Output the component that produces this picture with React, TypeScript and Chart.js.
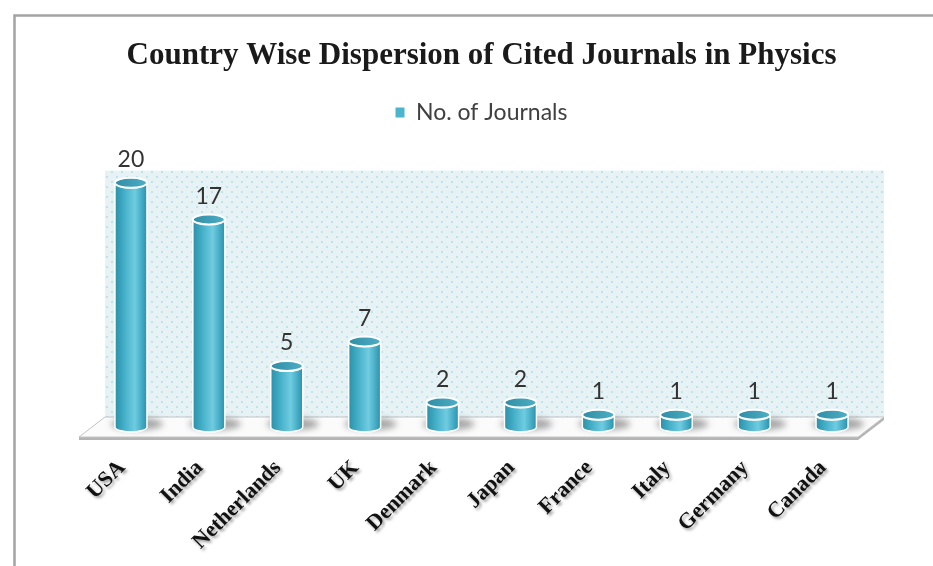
import React, { useEffect, useRef } from "react";
import { Chart, registerables } from "chart.js";

Chart.register(...registerables);

const categories = ["USA", "India", "Netherlands", "UK", "Denmark", "Japan", "France", "Italy", "Germany", "Canada"];
const journalCounts = [20, 17, 5, 7, 2, 2, 1, 1, 1, 1];
const seriesLabel = "No. of Journals";
const chartTitle = "Country Wise Dispersion of Cited Journals in Physics";
const yMax = 24;
const wallTopValue = 21;

function makePattern(ctx: CanvasRenderingContext2D) {
  const c = document.createElement("canvas");
  c.width = 10;
  c.height = 10;
  const p = c.getContext("2d")!;
  p.fillStyle = "#e7f2f5";
  p.fillRect(0, 0, 10, 10);
  p.fillStyle = "#bfe2ef";
  p.fillRect(1, 1, 2, 2);
  p.fillRect(6, 6, 2, 2);
  return ctx.createPattern(c, "repeat");
}

const DX = 13;
const DY = 10;

const scenePlugin = {
  id: "scene",
  beforeDraw(chart: any) {
    const { ctx, chartArea: a } = chart;
    const yS = chart.scales.y;
    const xs: any = chart.scales.x;
    if (xs && !xs.__shadowPatched) {
      const orig = xs.drawLabels;
      xs.drawLabels = function (area: any) {
        const c = this.ctx;
        c.save();
        c.shadowColor = "rgba(0,0,0,0.4)";
        c.shadowOffsetX = 2;
        c.shadowOffsetY = 2;
        c.shadowBlur = 3;
        orig.call(this, area);
        c.restore();
      };
      xs.__shadowPatched = true;
    }
    ctx.save();
    ctx.fillStyle = "#ffffff";
    ctx.fillRect(0, 0, chart.width, chart.height);
    // frame
    ctx.strokeStyle = "#a3a3a3";
    ctx.lineWidth = 2.5;
    ctx.strokeRect(14.5, 15.5, chart.width + 50, chart.height + 50);
    // wall
    const wallTop = yS.getPixelForValue(wallTopValue);
    const wl = a.left + DX;
    const wr = a.right + DX;
    const wb = a.bottom - DY;
    ctx.fillStyle = makePattern(ctx) as any;
    ctx.fillRect(wl, wallTop, wr - wl, wb - wallTop);
    // floor
    const b = a.bottom;
    const bl = [a.left + DX, b - DY];
    const br = [a.right + DX, b - DY];
    const fr = [a.right - DX, b + DY];
    const fl = [a.left - DX, b + DY];
    ctx.fillStyle = "#b4b4b4";
    ctx.beginPath();
    ctx.moveTo(fl[0], fl[1]);
    ctx.lineTo(fr[0], fr[1]);
    ctx.lineTo(br[0], br[1]);
    ctx.lineTo(br[0], br[1] + 3);
    ctx.lineTo(fr[0], fr[1] + 3);
    ctx.lineTo(fl[0], fl[1] + 3);
    ctx.closePath();
    ctx.fill();
    ctx.fillStyle = "#fbfbfb";
    ctx.strokeStyle = "#c4c4c4";
    ctx.lineWidth = 1;
    ctx.beginPath();
    ctx.moveTo(bl[0], bl[1]);
    ctx.lineTo(br[0], br[1]);
    ctx.lineTo(fr[0], fr[1]);
    ctx.lineTo(fl[0], fl[1]);
    ctx.closePath();
    ctx.fill();
    ctx.stroke();
    ctx.restore();
  },
  beforeDatasetsDraw(chart: any) {
    const { ctx } = chart;
    const meta = chart.getDatasetMeta(0);
    const data = chart.data.datasets[0].data as number[];
    ctx.save();
    meta.data.forEach((el: any, i: number) => {
      const { x, y, base, width } = el.getProps(["x", "y", "base", "width"], true);
      const rx = width / 2;
      const ry = 5;
      // floor shadow
      ctx.save();
      ctx.filter = "blur(3px)";
      ctx.fillStyle = "rgba(60,60,60,0.45)";
      ctx.beginPath();
      ctx.ellipse(x + 6, base - 3, rx + 10, ry + 1, 0, 0, Math.PI * 2);
      ctx.fill();
      ctx.restore();
      // body
      const g = ctx.createLinearGradient(x - rx, 0, x + rx, 0);
      g.addColorStop(0, "#2a90a8");
      g.addColorStop(0.3, "#45b0c9");
      g.addColorStop(0.62, "#6fcce1");
      g.addColorStop(0.85, "#43aac3");
      g.addColorStop(1, "#2b91a9");
      ctx.beginPath();
      ctx.moveTo(x - rx, y);
      ctx.lineTo(x - rx, base);
      ctx.ellipse(x, base, rx, ry, 0, Math.PI, 0, true);
      ctx.lineTo(x + rx, y);
      ctx.ellipse(x, y, rx, ry, 0, 0, Math.PI, false);
      ctx.closePath();
      ctx.fillStyle = g;
      ctx.fill();
      ctx.strokeStyle = "#ffffff";
      ctx.lineWidth = 1.5;
      ctx.stroke();
      // top cap
      const tg = ctx.createLinearGradient(x - rx, 0, x + rx, 0);
      tg.addColorStop(0, "#2f8ea5");
      tg.addColorStop(1, "#4eaec4");
      ctx.beginPath();
      ctx.ellipse(x, y, rx, ry, 0, 0, Math.PI * 2);
      ctx.fillStyle = tg;
      ctx.fill();
      ctx.strokeStyle = "#ffffff";
      ctx.lineWidth = 2;
      ctx.stroke();
      // value label
      ctx.fillStyle = "#333333";
      ctx.font = "23px Lato";
      ctx.textAlign = "center";
      ctx.textBaseline = "middle";
      ctx.fillText(String(data[i]), x, y - 23);
    });
    ctx.restore();
    return false;
  },
};

export default function App() {
  const ref = useRef<HTMLCanvasElement>(null);
  useEffect(() => {
    const chart = new Chart(ref.current!, {
      type: "bar",
      data: {
        labels: categories,
        datasets: [
          {
            label: seriesLabel,
            data: journalCounts,
            backgroundColor: "#4bb5cd",
            barThickness: 32,
          },
        ],
      },
      options: {
        animation: false,
        responsive: false,
        layout: { padding: { left: 92, right: 62, top: 0, bottom: 0 } },
        plugins: {
          title: {
            display: true,
            text: chartTitle,
            color: "#1a1a1a",
            font: { family: "Liberation Serif", size: 31, weight: "bold" },
            padding: { top: 37.4, bottom: 18.4 },
          },
          legend: {
            display: true,
            labels: {
              color: "#404040",
              font: { family: "Lato", size: 23 },
              boxWidth: 9,
              boxHeight: 10,
              padding: 8,
            },
          },
          tooltip: { enabled: false },
        },
        scales: {
          x: {
            grid: { display: false },
            border: { display: false },
            ticks: {
              color: "#111111",
              font: { family: "Liberation Serif", size: 22, weight: "bold" },
              maxRotation: 45,
              minRotation: 45,
              padding: 20,
              labelOffset: -9,
              autoSkip: false,
            },
            afterFit: (s: any) => {
              s.height = 139;
            },
          },
          y: {
            display: false,
            min: 0,
            max: yMax,
          },
        },
      },
      plugins: [scenePlugin],
    });
    chart.update();
    return () => chart.destroy();
  }, []);
  return (
    <div style={{ position: "absolute", left: 0, top: 0, width: 933, height: 566 }}>
      <canvas ref={ref} width={933} height={566} />
    </div>
  );
}
